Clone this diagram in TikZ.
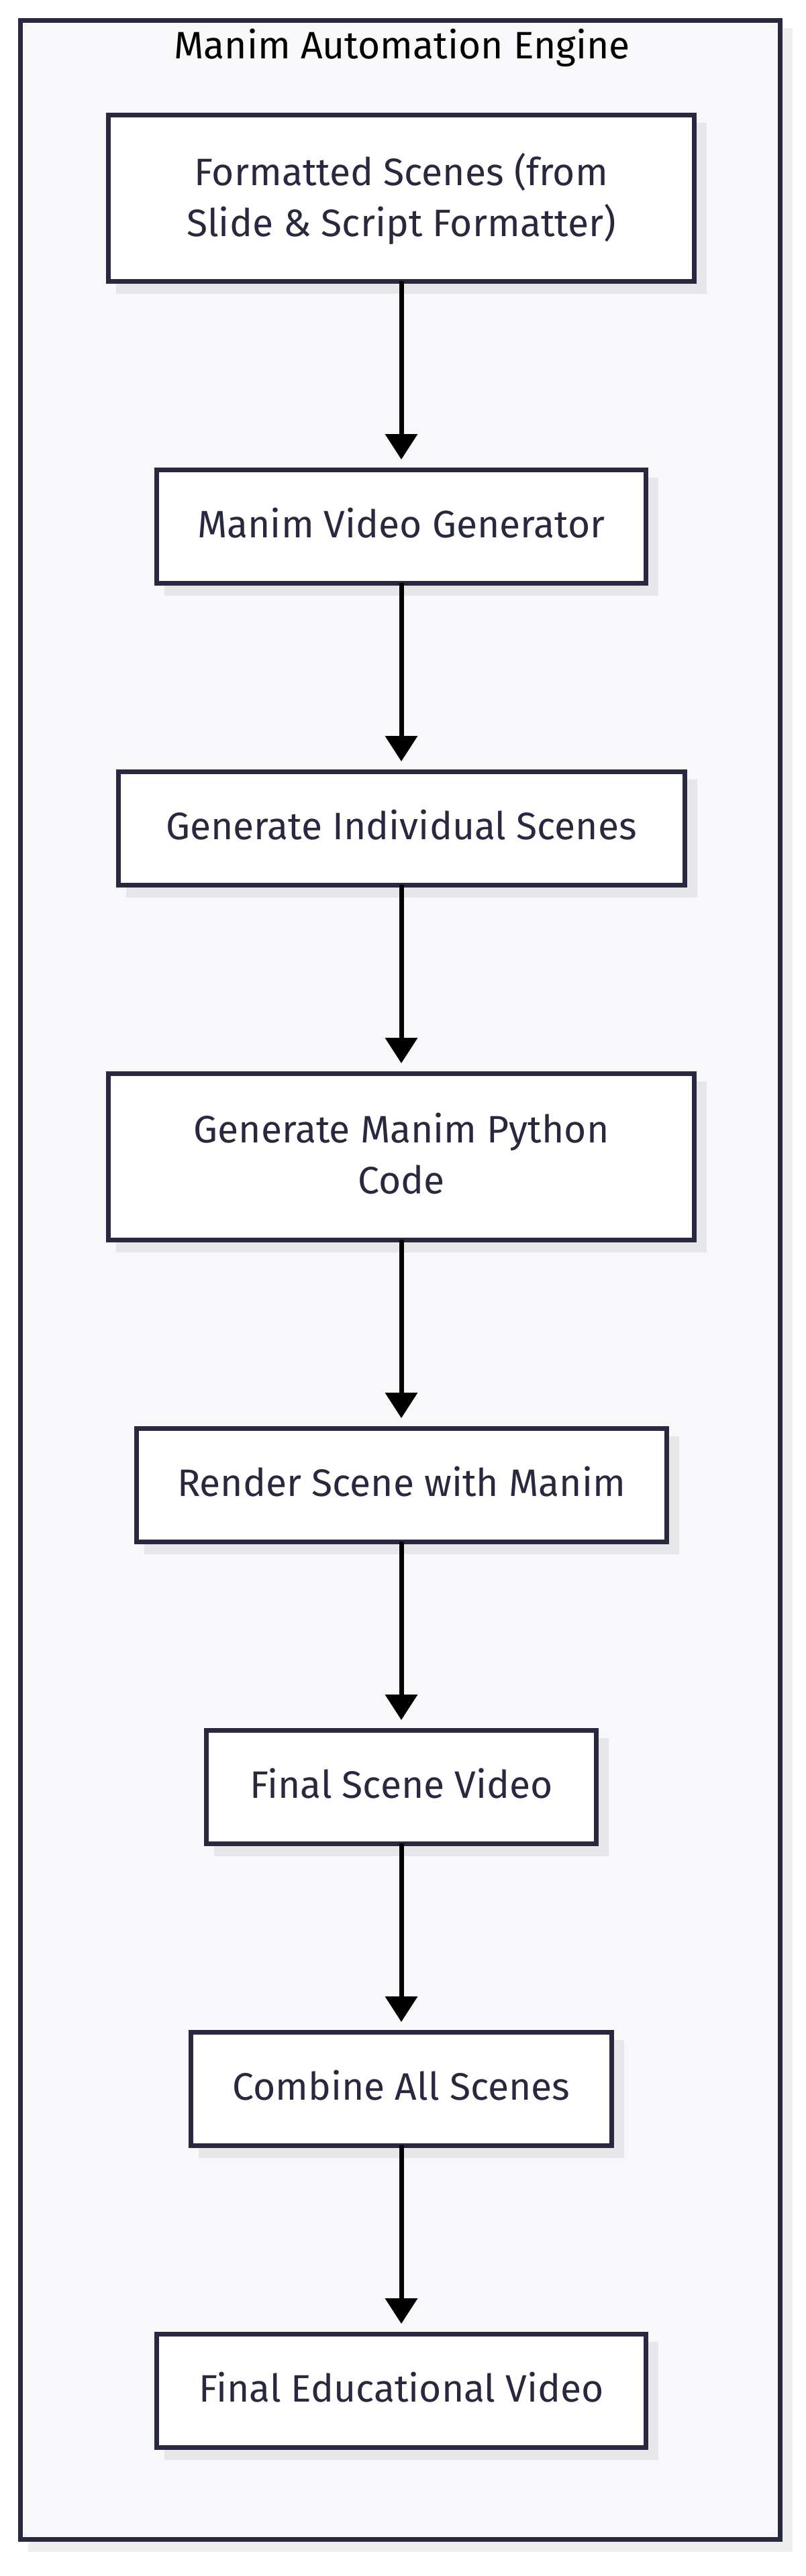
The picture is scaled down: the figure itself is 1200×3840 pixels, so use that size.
\documentclass[tikz,border=0pt]{standalone}
\usepackage{fontspec}
\setmainfont{Fira Sans}
\usetikzlibrary{arrows.meta}
\definecolor{strokec}{RGB}{40,40,62}
\definecolor{textc}{RGB}{40,40,62}
\definecolor{framefill}{RGB}{248,248,250}
\pgfdeclarelayer{framelayer}
\pgfdeclarelayer{shadowlayer}
\pgfsetlayers{framelayer,shadowlayer,main}
\tikzset{
  stepbox/.style={draw=strokec, line width=3.5pt, fill=white, rectangle, inner sep=0pt, outer sep=0pt,
    minimum height=84.5pt, text=textc, align=center, text depth=5pt,
    font=\fontsize{28.5pt}{38pt}\selectfont},
  tallbox/.style={stepbox, minimum height=124pt},
  framebox/.style={draw=strokec, line width=3.5pt, fill=framefill, rectangle, inner sep=0pt, outer sep=0pt},
  flowedge/.style={draw=black, line width=3.5pt, -{Triangle[length=19pt,width=23.5pt]}, shorten >=7.5pt},
  shadowfill/.style={fill=black, fill opacity=0.065}
}
\newcommand\boxshadow[1]{%
  \begin{pgfonlayer}{shadowlayer}
    \fill[shadowfill] ([shift={(11.5,11.5)}]#1.north west) rectangle ([shift={(18.5,18.5)}]#1.south east);
  \end{pgfonlayer}}
\begin{document}
\begin{tikzpicture}[x=0.5pt,y=-0.5pt]
\useasboundingbox (0,0) rectangle (1200,3840);
% frame with its shadow
\begin{pgfonlayer}{framelayer}
\fill[shadowfill] (41.5,41.5) rectangle (1180.5,3803.5);
\node[framebox, minimum width=566pt, minimum height=1877.5pt] (frame) at (596,1907.5) {};
\end{pgfonlayer}
\node[anchor=base, font=\fontsize{28.5pt}{38pt}\selectfont, text=black] (title) at (599,87) {Manim Automation Engine};
% boxes
\node[tallbox, minimum width=436.5pt] (b1) at (598,295) {Formatted Scenes (from\\Slide \& Script Formatter)};
\node[stepbox, minimum width=364.5pt] (b2) at (598,784.5) {Manim Video Generator};
\node[stepbox, minimum width=422pt] (b3) at (598,1234.5) {Generate Individual Scenes};
\node[tallbox, minimum width=436.5pt] (b4) at (598,1724) {Generate Manim Python\\Code};
\node[stepbox, minimum width=395pt] (b5) at (598,2213.5) {Render Scene with Manim};
\node[stepbox, minimum width=290.5pt] (b6) at (598,2663.5) {Final Scene Video};
\node[stepbox, minimum width=313.5pt] (b7) at (598,3113.5) {Combine All Scenes};
\node[stepbox, minimum width=364.5pt] (b8) at (598,3563.5) {Final Educational Video};
\foreach \b in {b1,b2,b3,b4,b5,b6,b7,b8} {\boxshadow{\b}}
% edges
\draw[flowedge] (b1) -- (b2);
\draw[flowedge] (b2) -- (b3);
\draw[flowedge] (b3) -- (b4);
\draw[flowedge] (b4) -- (b5);
\draw[flowedge] (b5) -- (b6);
\draw[flowedge] (b6) -- (b7);
\draw[flowedge] (b7) -- (b8);
\end{tikzpicture}
\end{document}
